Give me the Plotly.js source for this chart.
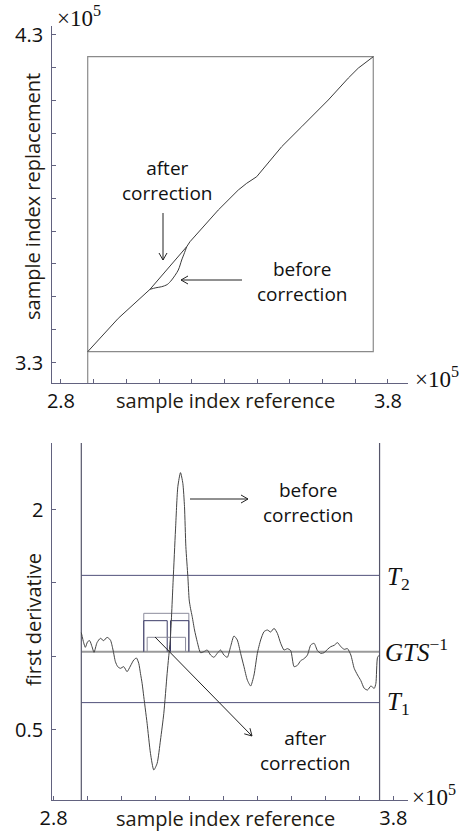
<!DOCTYPE html>
<html>
<head>
<meta charset="utf-8">
<script src="https://cdn.plot.ly/plotly-3.0.1.min.js"></script>
<style>html,body{margin:0;padding:0;background:#fff;}#chart{width:468px;height:834px;}</style>
</head>
<body>
<div id="chart"></div>
<script>
// ---- Top panel: sample index replacement vs reference (units of 1e5) ----
var afterX = [2.8817, 2.9752, 3.0722, 3.1844, 3.1945, 3.2810, 3.3422, 3.3679, 3.3985, 3.4239, 3.4749, 3.5361, 3.5667, 3.6174, 3.6786, 3.7092, 3.7550];
var afterY = [3.3315, 3.4336, 3.5223, 3.6526, 3.6679, 3.7648, 3.8260, 3.8465, 3.8667, 3.8973, 3.9584, 4.0196, 4.0502, 4.1012, 4.1682, 4.1988, 4.2336];
var beforeX = [3.0722, 3.0900, 3.1080, 3.1250, 3.1385, 3.1587, 3.1691, 3.1780, 3.1844];
var beforeY = [3.5223, 3.5270, 3.5303, 3.5370, 3.5508, 3.5813, 3.6119, 3.6350, 3.6526];

// ---- Bottom panel: first derivative before correction ----
var derX = [2.8816, 2.8885, 2.8934, 2.9003, 2.9062, 2.9131, 2.9190, 2.9278, 2.9377, 2.9475, 2.9573, 2.9672, 2.9750, 2.9819, 2.9888, 2.9967, 3.0065, 3.0163, 3.0262, 3.0360, 3.0439, 3.0507, 3.0557, 3.0606, 3.0655, 3.0704, 3.0753, 3.0852, 3.0950, 3.1048, 3.1147, 3.1245, 3.1343, 3.1441, 3.1520, 3.1589, 3.1658, 3.1736, 3.1805, 3.1854, 3.1894, 3.1953, 3.1992, 3.2031, 3.2081, 3.2149, 3.2228, 3.2326, 3.2425, 3.2523, 3.2621, 3.2720, 3.2818, 3.2916, 3.3015, 3.3113, 3.3211, 3.3310, 3.3408, 3.3506, 3.3605, 3.3703, 3.3801, 3.3900, 3.3998, 3.4096, 3.4195, 3.4293, 3.4391, 3.4490, 3.4588, 3.4686, 3.4785, 3.4883, 3.4981, 3.5080, 3.5178, 3.5276, 3.5375, 3.5473, 3.5571, 3.5670, 3.5768, 3.5866, 3.5965, 3.6063, 3.6161, 3.6260, 3.6358, 3.6456, 3.6555, 3.6653, 3.6751, 3.6850, 3.6948, 3.7046, 3.7145, 3.7243, 3.7341, 3.7440, 3.7489, 3.7538, 3.7597];
var derY = [1.1616, 1.0936, 1.0619, 1.1004, 1.1072, 1.0664, 1.0279, 1.0936, 1.1230, 1.1072, 1.1298, 1.1117, 1.0437, 0.9644, 0.9304, 0.9191, 0.9304, 0.8964, 0.9350, 0.9757, 0.9894, 0.9531, 0.8851, 0.8171, 0.7265, 0.6358, 0.5452, 0.3413, 0.2280, 0.2733, 0.4319, 0.6132, 0.8851, 1.1344, 1.5196, 1.8595, 2.1541, 2.2493, 2.1768, 2.0181, 1.7462, 1.5423, 1.3836, 1.3270, 1.2703, 1.1797, 1.1004, 1.0256, 1.0324, 1.0437, 1.0097, 0.9939, 1.0211, 1.0437, 1.0097, 0.9939, 1.0664, 1.1389, 1.1117, 1.0211, 0.9304, 0.8398, 0.7990, 0.8738, 1.0211, 1.1117, 1.1684, 1.1797, 1.1661, 1.1910, 1.1570, 1.0891, 1.0437, 1.0528, 1.0392, 0.9304, 0.9395, 0.9712, 0.9848, 1.0097, 1.0777, 1.0891, 1.0392, 1.0211, 1.0256, 1.0483, 1.0664, 1.0755, 1.0936, 1.0664, 1.0483, 1.0528, 1.0097, 0.9191, 0.8738, 0.8353, 0.7831, 0.7718, 0.7990, 0.7831, 0.8171, 0.9939, 1.0097];

// thresholds
var thrT2 = 1.551;
var thrGTS = 1.032;
var thrT1 = 0.686;

// after-correction step levels (x from, x to, level)
var stepX0 = [3.0655, 3.0655, 3.1442, 3.0755];
var stepX1 = [3.1982, 3.1345, 3.1982, 3.1885];
var stepLevel = [1.293, 1.243, 1.243, 1.130];
var stepColor = ['#8c8c9c', '#3c3c68', '#3c3c68', '#8c8c9c'];

// ticks
var xTickVals = [2.8, 2.9, 3.0, 3.1, 3.2, 3.3, 3.4, 3.5, 3.6, 3.7, 3.8];
var xTickText = ['2.8', '', '', '', '', '', '', '', '', '', '3.8'];
var yTopTickVals = [3.3, 3.4, 3.5, 3.6, 3.7, 3.8, 3.9, 4.0, 4.1, 4.2, 4.3];
var yTopTickText = ['3.3', '', '', '', '', '', '', '', '', '', '4.3'];
var yBotTickVals = [0.5, 1.0, 1.5, 2.0];
var yBotTickText = ['0.5', '', '', '2'];

// ---------------------------------------------------------------
var W = 468, H = 834;
function px(x) { return x / W; }
function py(y) { return 1 - y / H; }

var axisColor = '#62627f';
var sansFont = 'Open Sans, sans-serif';
var serifFont = 'Liberation Serif, Times New Roman, serif';

var topYRange = [3.2358, 4.3275];
var botYRange = [0.0241, 2.4507];

var xmin = Math.min.apply(null, afterX), xmax = Math.max.apply(null, afterX);
var ymin = Math.min.apply(null, afterY), ymax = Math.max.apply(null, afterY);

var traces = [];
traces.push({
  x: [xmin, xmax, xmax, xmin, xmin, xmin],
  y: [ymin, ymin, ymax, ymax, ymin, topYRange[0]],
  xaxis: 'x', yaxis: 'y', mode: 'lines',
  line: {color: '#8a8a8a', width: 1.2}, hoverinfo: 'skip'
});
traces.push({
  x: beforeX, y: beforeY, xaxis: 'x', yaxis: 'y', mode: 'lines',
  line: {color: '#3a3a3a', width: 1, shape: 'spline', smoothing: 0.8}
});
traces.push({
  x: afterX, y: afterY, xaxis: 'x', yaxis: 'y', mode: 'lines',
  line: {color: '#3a3a3a', width: 1}
});

var xStart = derX[0], xEnd = derX[derX.length - 1];
traces.push({x: [xStart, xEnd], y: [thrT2, thrT2], xaxis: 'x2', yaxis: 'y2', mode: 'lines', line: {color: '#50507a', width: 1}});
traces.push({x: [xStart, xEnd], y: [thrT1, thrT1], xaxis: 'x2', yaxis: 'y2', mode: 'lines', line: {color: '#50507a', width: 1}});
traces.push({x: [xStart, xEnd], y: [thrGTS, thrGTS], xaxis: 'x2', yaxis: 'y2', mode: 'lines', line: {color: '#9a9a9a', width: 2}});
traces.push({x: [xStart, xStart], y: botYRange, xaxis: 'x2', yaxis: 'y2', mode: 'lines', line: {color: '#55556a', width: 1.2}});
traces.push({x: [xEnd, xEnd], y: botYRange, xaxis: 'x2', yaxis: 'y2', mode: 'lines', line: {color: '#55556a', width: 1.2}});
for (var i = 0; i < stepLevel.length; i++) {
  traces.push({
    x: [stepX0[i], stepX0[i], stepX1[i], stepX1[i]],
    y: [thrGTS, stepLevel[i], stepLevel[i], thrGTS],
    xaxis: 'x2', yaxis: 'y2', mode: 'lines',
    line: {color: stepColor[i], width: 1}
  });
}
traces.push({
  x: derX, y: derY, xaxis: 'x2', yaxis: 'y2', mode: 'lines',
  line: {color: '#444', width: 1, shape: 'spline', smoothing: 0.6}
});

var tickFont = {family: sansFont, size: 20, color: '#111'};
function axisBase() {
  return {
    showline: true, linecolor: axisColor, linewidth: 1,
    ticks: 'inside', ticklen: 4, tickcolor: axisColor, tickwidth: 1,
    showgrid: false, zeroline: false, tickmode: 'array',
    tickfont: tickFont
  };
}
var xa = axisBase(); xa.domain = [px(52), px(408)]; xa.anchor = 'y'; xa.range = [2.7725, 3.8612]; xa.tickvals = xTickVals; xa.ticktext = xTickText;
var ya = axisBase(); ya.domain = [py(383), py(26)]; ya.anchor = 'x'; ya.range = topYRange; ya.tickvals = yTopTickVals; ya.showticklabels = false;
var xa2 = axisBase(); xa2.domain = [px(52), px(408)]; xa2.anchor = 'y2'; xa2.range = [2.7953, 3.8434]; xa2.tickvals = xTickVals; xa2.ticktext = xTickText;
var ya2 = axisBase(); ya2.domain = [py(800), py(443)]; ya2.anchor = 'x2'; ya2.range = botYRange; ya2.tickvals = yBotTickVals; ya2.showticklabels = false;

var txtFont = {family: sansFont, size: 19, color: '#111'};
var titleFont = {family: sansFont, size: 20, color: '#231a12'};
var mathFont = {family: serifFont, size: 25, color: '#111'};
var expFont = {family: serifFont, size: 23, color: '#111'};

function paperText(t, x, y, font, extra) {
  var a = {text: t, xref: 'paper', yref: 'paper', x: px(x), y: py(y), xanchor: 'center', yanchor: 'middle', showarrow: false, font: font};
  if (extra) for (var k in extra) a[k] = extra[k];
  return a;
}

var annotations = [
  paperText('×10<sup>5</sup>', 79, 17, expFont),
  paperText('×10<sup>5</sup>', 437, 377, expFont),
  paperText('×10<sup>5</sup>', 434, 795, expFont),
  paperText('sample index reference', 225, 400, titleFont),
  paperText('sample index replacement', 33, 197, titleFont, {textangle: -90}),
  paperText('sample index reference', 225, 818, titleFont),
  paperText('first derivative', 33, 620, titleFont, {textangle: -90}),
  paperText('after<br>correction', 167, 180, txtFont),
  paperText('before<br>correction', 302, 281, txtFont),
  paperText('before<br>correction', 308, 502, txtFont),
  paperText('after<br>correction', 305, 750, txtFont),
  paperText('<i>T</i><sub>2</sub>', 398, 578, mathFont),
  paperText('<i>GTS</i><sup>−1</sup>', 416, 650, mathFont),
  paperText('<i>T</i><sub>1</sub>', 398, 703, mathFont)
];
// y tick labels, placed at their tick values next to the axis
function yTickLabels(vals, texts, yref) {
  vals.forEach(function (v, k) {
    if (!texts[k]) return;
    annotations.push({text: texts[k], xref: 'paper', yref: yref, x: px(45), y: v,
      xanchor: 'right', yanchor: 'middle', showarrow: false, font: tickFont});
  });
}
yTickLabels(yTopTickVals, yTopTickText, 'y');
yTickLabels(yBotTickVals, yBotTickText, 'y2');

// pointer arrows with open V heads (tail px, head px)
var arrowDefs = [
  [163, 213, 163, 260],
  [242, 280, 181, 280],
  [190, 499, 248, 499],
  [155, 637, 252, 736]
];
var shapes = arrowDefs.map(function (a) {
  var dx = a[2] - a[0], dy = a[3] - a[1], L = Math.sqrt(dx * dx + dy * dy);
  var ux = dx / L, uy = dy / L, back = 7, half = 4;
  var bx = a[2] - ux * back, by = a[3] - uy * back;
  var p1x = bx - uy * half, p1y = by + ux * half;
  var p2x = bx + uy * half, p2y = by - ux * half;
  var path = 'M' + px(a[0]) + ',' + py(a[1]) + ' L' + px(a[2]) + ',' + py(a[3]) +
             ' M' + px(p1x) + ',' + py(p1y) + ' L' + px(a[2]) + ',' + py(a[3]) + ' L' + px(p2x) + ',' + py(p2y);
  return {type: 'path', xref: 'paper', yref: 'paper', path: path, line: {color: '#222', width: 1}};
});

var layout = {
  width: W, height: H, margin: {l: 0, r: 0, t: 0, b: 0},
  paper_bgcolor: '#fff', plot_bgcolor: 'rgba(0,0,0,0)', showlegend: false,
  xaxis: xa, yaxis: ya, xaxis2: xa2, yaxis2: ya2,
  annotations: annotations, shapes: shapes
};
Plotly.newPlot('chart', traces, layout, {staticPlot: true, displayModeBar: false});
</script>
</body>
</html>
